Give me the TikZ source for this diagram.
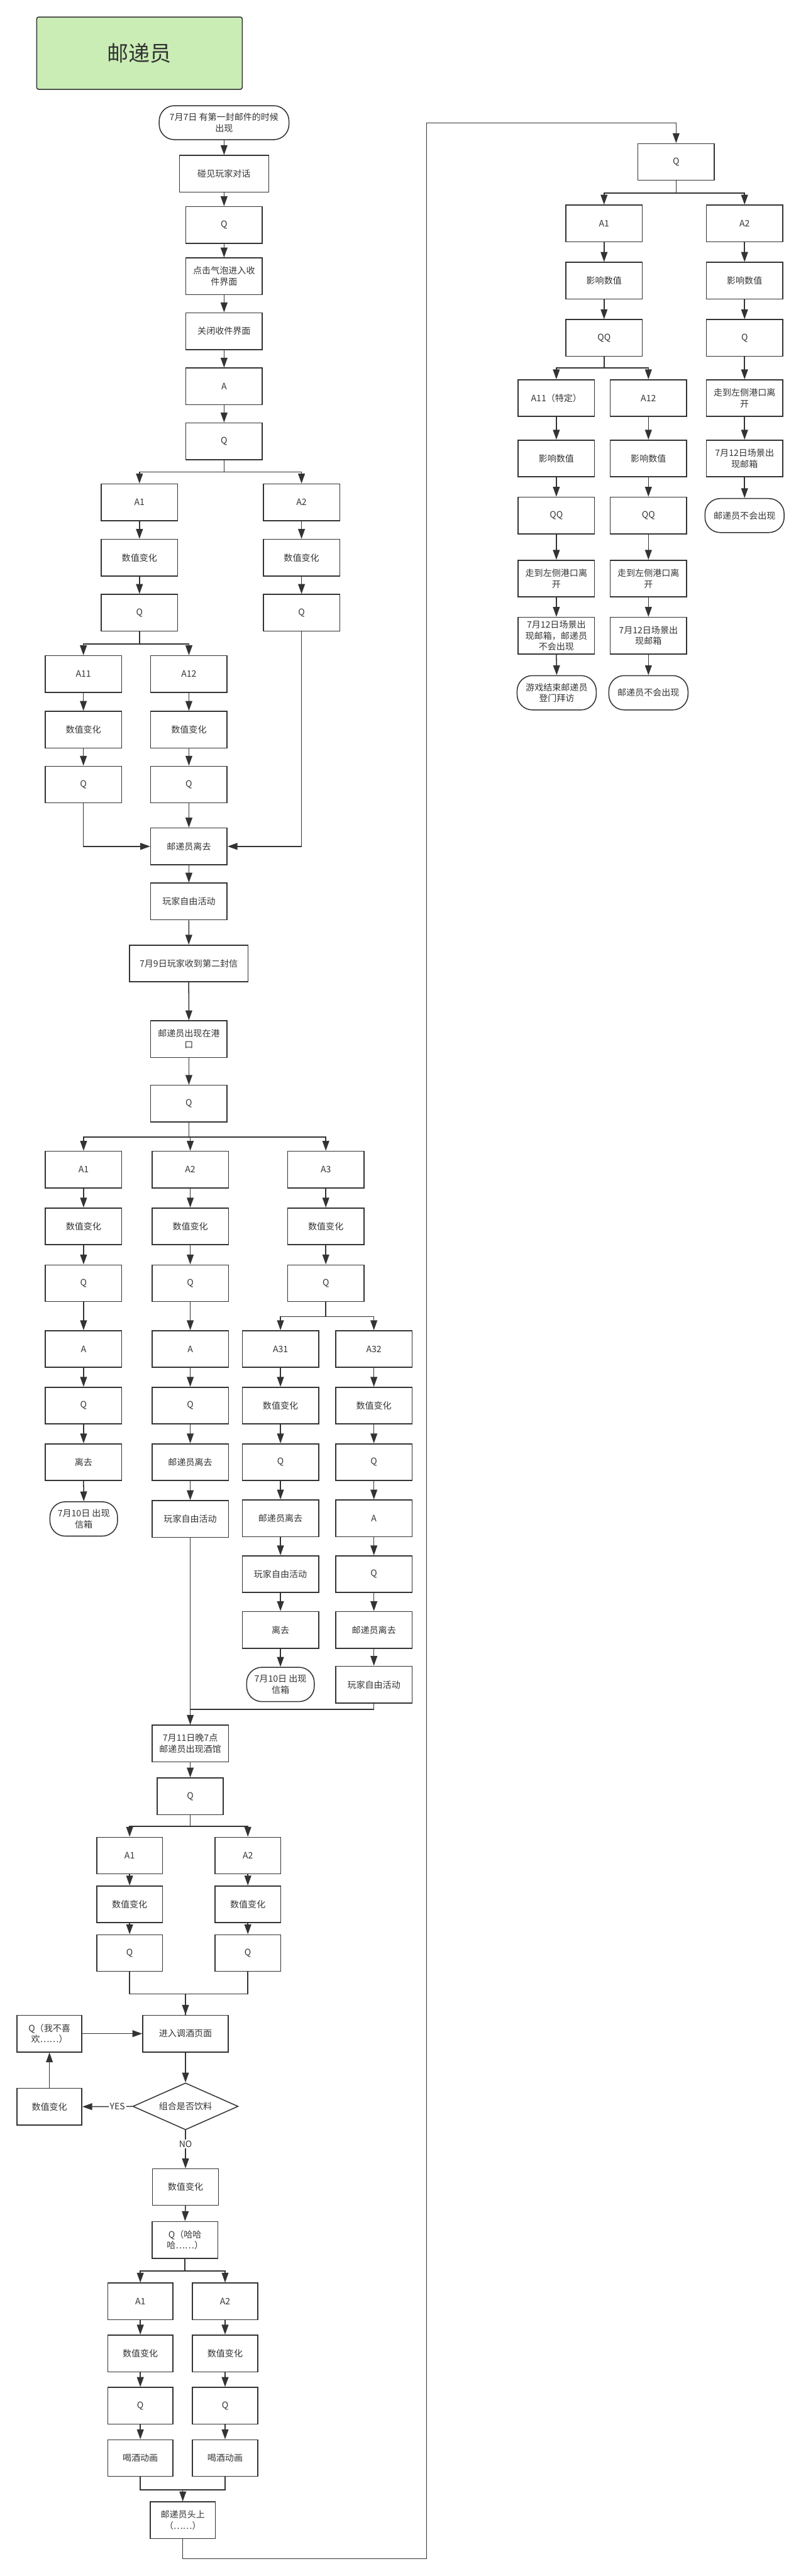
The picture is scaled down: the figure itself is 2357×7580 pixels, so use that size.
\documentclass[tikz,border=0pt]{standalone}
\usepackage{fontspec}
\setmainfont{Noto Sans CJK SC}
\usepackage{xcolor}
\usetikzlibrary{arrows.meta}
\usetikzlibrary{shapes.geometric}
\usetikzlibrary{calc}

\definecolor{linegray}{HTML}{333333}
\definecolor{titlegreen}{HTML}{C9EDB5}

\tikzset{
  box/.style={draw=linegray, line width=0.8pt, minimum width=22.5mm, minimum height=10.8mm,
    align=center, inner sep=1pt, text=linegray, font=\fontsize{7.4}{9.2}\selectfont},
  term/.style={box, rounded corners=4.5mm, minimum width=19.9mm, minimum height=10.1mm},
  small/.style={box, minimum width=19.3mm},
  titlebox/.style={draw=linegray, line width=0.8pt, fill=titlegreen, rounded corners=0.6mm,
    minimum width=60.5mm, minimum height=21.3mm, text=linegray, font=\fontsize{17.9}{20}\selectfont},
  decide/.style={box, diamond, shape aspect=2.25, inner sep=0pt, minimum width=31mm, minimum height=13.8mm},
  arr/.style={draw=linegray, line width=0.8pt, -{Triangle[length=2.9mm,width=2mm]}},
  plain/.style={draw=linegray, line width=0.8pt},
  tag/.style={fill=white, inner sep=1pt, text=linegray, font=\fontsize{7.4}{9.2}\selectfont},
}

\begin{document}
\begin{tikzpicture}[x=0.1mm, y=-0.1mm]
    \useasboundingbox (0,0) rectangle (2357,7580);

    % Title
    \node[titlebox] (title) at (410.5,156.5) {邮递员};

    % 7月7日
    \node[term, minimum width=38.2mm, minimum height=10mm] (start) at (659.5,361) {7月7日 有第一封邮件的时候\\出现};
    \node[box, minimum width=26.3mm] (meet) at (659.5,511.5) {碰见玩家对话};
    \node[box] (q1) at (659.5,662) {Q};
    \node[box] (mail) at (659.5,813) {点击气泡进入收\\件界面};
    \node[box] (close) at (659.5,974.5) {关闭收件界面};
    \node[box] (ans) at (659.5,1137) {A};
    \node[box] (q2) at (659.5,1298.5) {Q};

    \node[box] (a1) at (410.5,1478) {A1};
    \node[box] (a2) at (887.5,1478) {A2};
    \node[box] (a1val) at (410.5,1641) {数值变化};
    \node[box] (a2val) at (887.5,1641) {数值变化};
    \node[box] (a1q) at (410.5,1803) {Q};
    \node[box] (a2q) at (887.5,1803) {Q};

    \node[box] (a11) at (245.5,1983.5) {A11};
    \node[box] (a12) at (556,1983.5) {A12};
    \node[box] (a11val) at (245.5,2147) {数值变化};
    \node[box] (a12val) at (556,2147) {数值变化};
    \node[box] (a11q) at (245.5,2308.5) {Q};
    \node[box] (a12q) at (556,2308.5) {Q};

    \node[box] (leave) at (556,2490.5) {邮递员离去};
    \node[box] (free) at (556,2652.5) {玩家自由活动};
    \node[box, minimum width=34.9mm] (letter) at (555.5,2835) {7月9日玩家收到第二封信};
    \node[box] (port) at (556,3057.5) {邮递员出现在港\\口};
    \node[box] (q3) at (556,3247.5) {Q};

    % 港口 branches
    \node[box] (pa1) at (246,3441.5) {A1};
    \node[box] (pa2) at (560,3441.5) {A2};
    \node[box] (pa3) at (959,3441.5) {A3};
    \node[box] (pa1val) at (246,3608.5) {数值变化};
    \node[box] (pa2val) at (560,3608.5) {数值变化};
    \node[box] (pa3val) at (959,3608.5) {数值变化};
    \node[box] (pa1q) at (246,3776) {Q};
    \node[box] (pa2q) at (560,3776) {Q};
    \node[box] (pa3q) at (959,3776) {Q};

    \node[box] (pa1ans) at (246,3969.5) {A};
    \node[box] (pa2ans) at (560,3969.5) {A};
    \node[box] (pa31) at (825.5,3969.5) {A31};
    \node[box] (pa32) at (1100.5,3969.5) {A32};
    \node[box] (pa1q2) at (246,4136) {Q};
    \node[box] (pa2q2) at (560,4136) {Q};
    \node[box] (pa31val) at (825.5,4136) {数值变化};
    \node[box] (pa32val) at (1100.5,4136) {数值变化};
    \node[box] (pa1leave) at (246,4302.5) {离去};
    \node[box] (pa2leave) at (560,4302.5) {邮递员离去};
    \node[box] (pa31q) at (825.5,4302.5) {Q};
    \node[box] (pa32q) at (1100.5,4302.5) {Q};
    \node[term] (pa1end) at (246.5,4469.5) {7月10日 出现\\信箱};
    \node[box] (pa2free) at (560,4469.5) {玩家自由活动};
    \node[box] (pa31leave) at (825.5,4467.5) {邮递员离去};
    \node[box] (pa32ans) at (1100.5,4467.5) {A};
    \node[box] (pa31free) at (825.5,4632) {玩家自由活动};
    \node[box] (pa32q2) at (1100.5,4632) {Q};
    \node[box] (pa31go) at (825.5,4796) {离去};
    \node[box] (pa32leave) at (1100.5,4796) {邮递员离去};
    \node[term] (pa31end) at (825.5,4956.5) {7月10日 出现\\信箱};
    \node[box] (pa32free) at (1100.5,4957) {玩家自由活动};

    % 酒馆
    \node[box] (night) at (560,5130.5) {7月11日晚7点\\邮递员出现酒馆};
    \node[small, minimum width=19.4mm] (nq) at (560,5285.5) {Q};
    \node[small] (na1) at (381.5,5460) {A1};
    \node[small] (na2) at (729.5,5460) {A2};
    \node[small] (na1val) at (381.5,5603.5) {数值变化};
    \node[small] (na2val) at (729.5,5603.5) {数值变化};
    \node[small] (na1q) at (381.5,5747) {Q};
    \node[small] (na2q) at (729.5,5747) {Q};

    \node[box, minimum width=25.2mm] (mix) at (546,5984) {进入调酒页面};
    \node[small, minimum width=19.1mm] (mixq) at (145.5,5984) {Q（我不喜\\欢……）};
    \node[small, minimum width=19.1mm] (mixval) at (145.5,6199) {数值变化};
    \node[decide] (drink) at (546,6198) {组合是否饮料};
    \node[small, minimum width=19.4mm, minimum height=10.7mm] (noval) at (546,6435.5) {数值变化};
    \node[small] (hq) at (544.5,6591) {Q（哈哈\\哈……）};

    \node[small, minimum width=19.2mm] (ha1) at (413,6772) {A1};
    \node[small, minimum width=19.2mm] (ha2) at (662.5,6772) {A2};
    \node[small, minimum width=19.2mm] (ha1val) at (413,6925) {数值变化};
    \node[small, minimum width=19.2mm] (ha2val) at (662.5,6925) {数值变化};
    \node[small, minimum width=19.2mm] (ha1q) at (413,7079) {Q};
    \node[small, minimum width=19.2mm] (ha2q) at (662.5,7079) {Q};
    \node[small, minimum width=19.2mm] (ha1anim) at (413,7233) {喝酒动画};
    \node[small, minimum width=19.2mm] (ha2anim) at (662.5,7233) {喝酒动画};
    \node[small, minimum width=19.2mm] (head) at (538,7415.5) {邮递员头上\\（……）};

    % Right column
    \node[box] (rq) at (1990,476.5) {Q};
    \node[box] (ra1) at (1778,657.5) {A1};
    \node[box] (ra2) at (2191.5,657.5) {A2};
    \node[box] (ra1val) at (1778,826) {影响数值};
    \node[box] (ra2val) at (2191.5,826) {影响数值};
    \node[box] (ra1q) at (1778,994.5) {QQ};
    \node[box] (ra2q) at (2191.5,994.5) {Q};

    \node[box] (ra11) at (1637.5,1171.5) {A11（特定）};
    \node[box] (ra12) at (1908.5,1171.5) {A12};
    \node[box] (ra2go) at (2191.5,1171.5) {走到左侧港口离\\开};
    \node[box] (ra11val) at (1637.5,1349) {影响数值};
    \node[box] (ra12val) at (1908.5,1349) {影响数值};
    \node[box] (ra2box) at (2191.5,1349) {7月12日场景出\\现邮箱};
    \node[box] (ra11q) at (1637.5,1517) {QQ};
    \node[box] (ra12q) at (1908.5,1517) {QQ};
    \node[term, minimum width=23.3mm, minimum height=10mm] (ra2end) at (2191.5,1517) {邮递员不会出现};
    \node[box] (ra11go) at (1637.5,1702.5) {走到左侧港口离\\开};
    \node[box] (ra12go) at (1908.5,1702.5) {走到左侧港口离\\开};
    \node[box] (ra11box) at (1637.5,1870.5) {7月12日场景出\\现邮箱，邮递员\\不会出现};
    \node[box] (ra12box) at (1908.5,1870.5) {7月12日场景出\\现邮箱};
    \node[term, minimum width=23.3mm] (ra11end) at (1638.5,2038.5) {游戏结束邮递员\\登门拜访};
    \node[term, minimum width=23.3mm] (ra12end) at (1908.5,2038.5) {邮递员不会出现};

    % Straight arrows
    \foreach \a/\b in {start/meet, meet/q1, q1/mail, mail/close, close/ans, ans/q2,
        a1/a1val, a1val/a1q, a2/a2val, a2val/a2q,
        a11/a11val, a11val/a11q, a12/a12val, a12val/a12q, a12q/leave,
        leave/free, free/letter, letter/port, port/q3,
        pa1/pa1val, pa1val/pa1q, pa1q/pa1ans, pa1ans/pa1q2, pa1q2/pa1leave, pa1leave/pa1end,
        pa2/pa2val, pa2val/pa2q, pa2q/pa2ans, pa2ans/pa2q2, pa2q2/pa2leave, pa2leave/pa2free, pa2free/night,
        pa3/pa3val, pa3val/pa3q,
        pa31/pa31val, pa31val/pa31q, pa31q/pa31leave, pa31leave/pa31free, pa31free/pa31go, pa31go/pa31end,
        pa32/pa32val, pa32val/pa32q, pa32q/pa32ans, pa32ans/pa32q2, pa32q2/pa32leave, pa32leave/pa32free,
        night/nq, na1/na1val, na1val/na1q, na2/na2val, na2val/na2q,
        mix/drink, noval/hq,
        ha1/ha1val, ha1val/ha1q, ha1q/ha1anim, ha2/ha2val, ha2val/ha2q, ha2q/ha2anim,
        ra1/ra1val, ra1val/ra1q, ra2/ra2val, ra2val/ra2q, ra2q/ra2go, ra2go/ra2box, ra2box/ra2end,
        ra11/ra11val, ra11val/ra11q, ra11q/ra11go, ra11go/ra11box, ra11box/ra11end,
        ra12/ra12val, ra12val/ra12q, ra12q/ra12go, ra12go/ra12box, ra12box/ra12end}
        \draw[arr] (\a.south) -- (\b.north);

    % Branches
    \foreach \b in {a1,a2} \draw[arr] (q2.south) -- ++(0,35) -| (\b.north);
    \foreach \b in {a11,a12} \draw[arr] (a1q.south) -- ++(0,37) -| (\b.north);
    \foreach \b in {pa1,pa2,pa3} \draw[arr] (q3.south) -- ++(0,43) -| (\b.north);
    \foreach \b in {pa31,pa32} \draw[arr] (pa3q.south) -- ++(0,43) -| (\b.north);
    \foreach \b in {na1,na2} \draw[arr] (nq.south) -- ++(0,33) -| (\b.north);
    \foreach \b in {ha1,ha2} \draw[arr] (hq.south) -- ++(0,36) -| (\b.north);
    \foreach \b in {ra1,ra2} \draw[arr] (rq.south) -- ++(0,36) -| (\b.north);
    \foreach \b in {ra11,ra12} \draw[arr] (ra1q.south) -- ++(0,33) -| (\b.north);

    % Merges
    \draw[arr] (a11q.south) |- (leave.west);
    \draw[arr] (a2q.south) |- (leave.east);
    \draw[plain] (pa32free.south) -- ++(0,17) -| (night.north);
    \draw[arr] (na1q.south) -- ++(0,65) -| (mix.north);
    \draw[plain] (na2q.south) -- ++(0,65) -| (mix.north);
    \draw[arr] (ha1anim.south) -- ++(0,38) -| (head.north);
    \draw[plain] (ha2anim.south) -- ++(0,38) -| (head.north);

    % 调酒 loop
    \draw[arr] (drink.west) -- (mixval.east) node[tag, pos=0.3] {YES};
    \draw[arr] (mixval.north) -- (mixq.south);
    \draw[arr] (mixq.east) -- (mix.west);
    \draw[arr] (drink.south) -- (noval.north) node[tag, pos=0.36] {NO};

    % Back to the right column
    \coordinate (loopb) at (1256,7529);
    \coordinate (loopt) at (1256,362);
    \draw[arr] (head.south) |- (loopb) -- (loopt) -| (rq.north);

\end{tikzpicture}
\end{document}
